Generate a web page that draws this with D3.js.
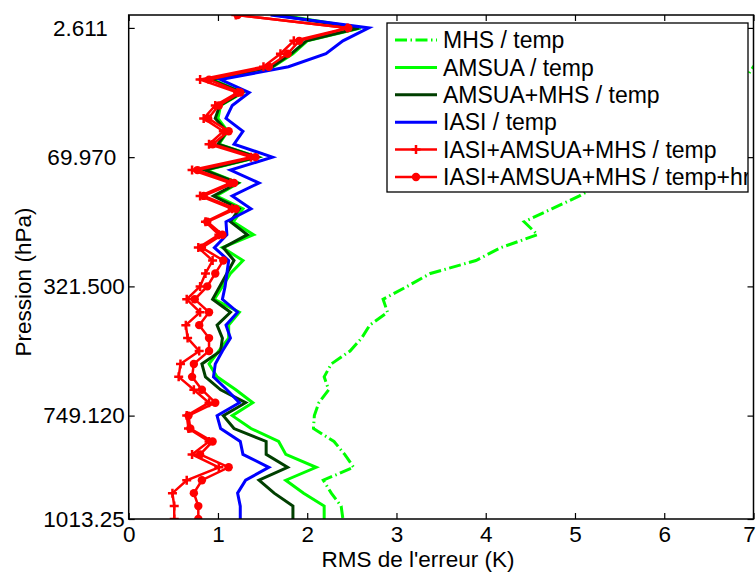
<!DOCTYPE html>
<html><head><meta charset="utf-8">
<script src="https://cdn.jsdelivr.net/npm/d3@7/dist/d3.min.js"></script>
<style>
body{margin:0;background:#fff;}
svg text{font-family:"Liberation Sans",Arial,Helvetica,sans-serif;fill:#000;}
</style>
</head><body>
<svg id="chart" width="756" height="572"></svg>
<script>
// pressure level index (0 = top of profile, 39 = surface)
const levelIndex = [0,1,2,3,4,5,6,7,8,9,10,11,12,13,14,15,16,17,18,19,20,21,22,23,24,25,26,27,28,29,30,31,32,33,34,35,36,37,38,39];
const yTickLevels = [1, 11, 21, 31, 39];
const yTickLabels = ["2.611", "69.970", "321.500", "749.120", "1013.25"];
const xTicks = [0,1,2,3,4,5,6,7];

const mhsTemp = [8.6,9.2,8.4,7.6,7.0,6.9,6.7,6.5,6.3,6.1,5.9,5.7,5.5,5.3,5.05,4.74,4.43,4.58,4.17,3.89,3.38,3.12,2.85,2.90,2.70,2.61,2.48,2.27,2.19,2.24,2.13,2.08,2.07,2.30,2.42,2.52,2.18,2.27,2.38,2.40];
const amsuaTemp = [1.70,2.60,2.00,1.84,1.62,0.94,1.28,1.03,1.00,1.11,1.01,1.45,0.87,1.23,0.98,1.28,1.17,1.40,1.05,1.28,1.14,1.05,0.96,1.24,1.12,1.12,1.01,0.90,0.99,1.20,1.39,1.16,1.37,1.68,1.76,2.10,1.76,1.96,2.19,2.19];
const amsuaMhsTemp = [1.65,2.58,1.99,1.82,1.61,0.92,1.27,1.02,0.97,1.10,1.00,1.44,0.85,1.22,0.95,1.24,1.14,1.33,1.06,1.18,1.10,1.02,0.94,1.14,0.99,1.05,1.03,0.82,0.86,1.03,1.31,1.06,1.18,1.54,1.54,1.78,1.46,1.63,1.84,1.84];
const iasiTemp = [1.59,2.69,2.40,2.21,1.79,1.03,1.35,1.16,1.09,1.28,1.18,1.61,1.14,1.46,1.16,1.37,1.09,1.10,0.96,1.12,1.10,1.08,1.05,1.22,1.09,1.14,1.05,0.97,0.95,1.10,1.24,0.99,1.03,1.25,1.28,1.57,1.31,1.22,1.25,1.25];
const allTemp = [1.20,2.45,1.85,1.70,1.51,0.80,1.22,0.97,0.84,1.06,0.90,1.37,0.71,1.14,0.80,1.16,0.86,1.01,0.78,0.94,0.86,0.80,0.65,0.80,0.64,0.66,0.79,0.58,0.56,0.73,0.90,0.65,0.67,0.90,0.71,1.01,0.65,0.49,0.51,0.51];
const allTempHr = [1.22,2.46,1.91,1.78,1.57,0.90,1.25,1.01,0.89,1.12,0.94,1.42,0.77,1.18,0.84,1.20,0.88,1.05,0.82,1.06,0.97,0.88,0.74,0.90,0.79,0.90,0.90,0.73,0.71,0.82,0.97,0.67,0.69,0.94,0.80,1.12,0.82,0.73,0.78,0.78];

const seriesNames = ["MHS / temp","AMSUA / temp","AMSUA+MHS / temp","IASI / temp","IASI+AMSUA+MHS / temp","IASI+AMSUA+MHS / temp+hr"];
const seriesValues = [mhsTemp, amsuaTemp, amsuaMhsTemp, iasiTemp, allTemp, allTempHr];
const seriesColors = ["#00ff00","#00ff00","#003f00","#0000ff","#ff0000","#ff0000"];
const seriesDash = ["12,3.5,1.5,3.5", null, null, null, null, null];
const seriesMarker = [null, null, null, null, "plus", "dot"];

const FS = "22.5px";
const svg = d3.select("#chart");
const L = 128.7, R = 753.5, T = 15, B = 519;
const x = d3.scaleLinear().domain([0, 7]).range([L, R]);
const y = d3.scaleLinear().domain([0, 39]).range([T, B]);

svg.append("defs").append("clipPath").attr("id","plotclip")
  .append("rect").attr("x",L).attr("y",T).attr("width",R-L).attr("height",B-T);

const plot = svg.append("g").attr("clip-path","url(#plotclip)");
const line = d3.line().x(d => x(d[1])).y(d => y(d[0]));

seriesValues.forEach((vals, s) => {
  const pts = levelIndex.map((lv, i) => [lv, vals[i]]);
  const p = plot.append("path").datum(pts)
    .attr("d", line).attr("fill","none")
    .attr("stroke", seriesColors[s])
    .attr("stroke-width", s >= 4 ? 2.5 : 3)
    .attr("stroke-linejoin","miter");
  if (seriesDash[s]) p.attr("stroke-dasharray", seriesDash[s]);
  if (seriesMarker[s] === "plus") {
    plot.append("g").selectAll("path").data(pts).join("path")
      .attr("d", d => `M${x(d[1])-4.5},${y(d[0])}h9M${x(d[1])},${y(d[0])-4.5}v9`)
      .attr("stroke", seriesColors[s]).attr("stroke-width", 2.5);
  } else if (seriesMarker[s] === "dot") {
    plot.append("g").selectAll("circle").data(pts).join("circle")
      .attr("cx", d => x(d[1])).attr("cy", d => y(d[0])).attr("r", 4.2)
      .attr("fill", seriesColors[s]);
  }
});

// axes
function styleAxis(g){
  g.select(".domain").remove();
  g.selectAll(".tick line").attr("stroke","#000").attr("stroke-width",1.2);
  g.selectAll("text").style("font-size",FS).attr("fill","#000");
}
const xAx = svg.append("g").attr("transform",`translate(0,${B})`)
  .call(d3.axisBottom(x).tickValues(xTicks).tickFormat(d3.format("d")).tickSizeInner(-6).tickSizeOuter(0).tickPadding(7))
  .call(styleAxis);
// keep the last label inside the page edge
xAx.selectAll(".tick text").filter(d => d === 7).attr("dx", -4.5);
svg.append("g").attr("transform",`translate(0,${T})`)
  .call(d3.axisTop(x).tickValues(xTicks).tickFormat("").tickSizeInner(-6).tickSizeOuter(0))
  .call(styleAxis);
const yAx = svg.append("g").attr("transform",`translate(${L},0)`)
  .call(d3.axisLeft(y).tickValues(yTickLevels).tickFormat((d,i) => yTickLabels[i]).tickSizeInner(-6).tickSizeOuter(0).tickPadding(4))
  .call(styleAxis);
// labels are padded to a common width of 7 characters, as in the original
yAx.selectAll(".tick text").attr("dx", (d,i) => -(7 - yTickLabels[i].length) * 8.5);
svg.append("g").attr("transform",`translate(${R},0)`)
  .call(d3.axisRight(y).tickValues(yTickLevels).tickFormat("").tickSizeInner(-6).tickSizeOuter(0))
  .call(styleAxis);

svg.append("rect").attr("x",L).attr("y",T).attr("width",R-L).attr("height",B-T)
  .attr("fill","none").attr("stroke","#000").attr("stroke-width",1.5);

// axis titles
svg.append("text").attr("x", 418).attr("y", 567.3).attr("text-anchor","middle")
  .style("font-size",FS).text("RMS de l'erreur (K)");
svg.append("text").attr("transform","translate(31,282) rotate(-90)").attr("text-anchor","middle")
  .style("font-size",FS).text("Pression (hPa)");

// legend
const LX = 387, LY = 23, LW = 361, LH = 169;
svg.select("defs").append("clipPath").attr("id","legclip")
  .append("rect").attr("x",LX).attr("y",LY).attr("width",LW).attr("height",LH);
const leg = svg.append("g");
leg.append("rect").attr("x",LX).attr("y",LY).attr("width",LW).attr("height",LH)
  .attr("fill","#fff").attr("stroke","#000").attr("stroke-width",1.3);
const legItems = leg.append("g").attr("clip-path","url(#legclip)");
seriesNames.forEach((name, s) => {
  const cy = 40 + s * 27.4;
  const l = legItems.append("line").attr("x1",395).attr("x2",437).attr("y1",cy).attr("y2",cy)
    .attr("stroke", seriesColors[s]).attr("stroke-width", s >= 4 ? 2.5 : 3);
  if (seriesDash[s]) l.attr("stroke-dasharray", seriesDash[s]);
  if (seriesMarker[s] === "plus") {
    legItems.append("path").attr("d",`M411.5,${cy}h9M416,${cy-4.5}v9`).attr("stroke",seriesColors[s]).attr("stroke-width",2.5);
  } else if (seriesMarker[s] === "dot") {
    legItems.append("circle").attr("cx",416).attr("cy",cy).attr("r",4.2).attr("fill",seriesColors[s]);
  }
  legItems.append("text").attr("x",443).attr("y",cy).attr("dy","0.36em")
    .style("font-size","23px").text(name);
});
</script>
</body></html>
